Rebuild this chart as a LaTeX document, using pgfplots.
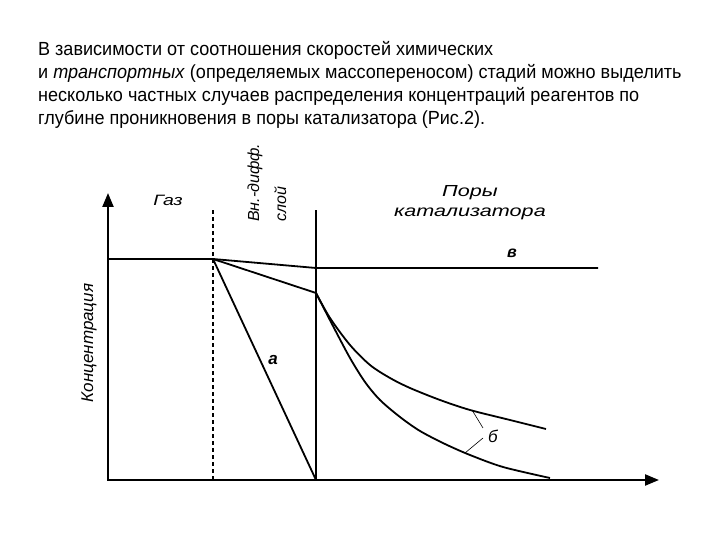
\documentclass[border=0pt]{standalone}
\usepackage{fontspec}
\setmainfont{Liberation Sans}
\usepackage{pgfplots}
\pgfplotsset{compat=1.18}
\usetikzlibrary{arrows.meta}
\begin{document}
\begin{tikzpicture}
\begin{axis}[width=720pt,height=540pt,scale only axis,xmin=0,xmax=720,ymin=0,ymax=540,hide axis,clip=false]
\path (axis cs:0,0) rectangle (axis cs:720,540);
% paragraph
\node[anchor=base west,font=\fontsize{19}{22}\selectfont,inner sep=0pt,xscale=0.95] at (axis cs:38,484) {В зависимости от соотношения скоростей химических};
\node[anchor=base west,font=\fontsize{19}{22}\selectfont,inner sep=0pt,xscale=0.95] at (axis cs:38,461) {и \textit{транспортных} (определяемых массопереносом) стадий можно выделить};
\node[anchor=base west,font=\fontsize{19}{22}\selectfont,inner sep=0pt,xscale=0.95] at (axis cs:38,438) {несколько частных случаев распределения концентраций реагентов по};
\node[anchor=base west,font=\fontsize{19}{22}\selectfont,inner sep=0pt,xscale=0.95] at (axis cs:38,415) {глубине проникновения в поры катализатора (Рис.2).};
% axes
\addplot[line width=2.2pt,-{Triangle[length=14pt,width=11pt]}] coordinates {(108,59) (108,347)};
\addplot[line width=2.2pt,-{Triangle[length=14pt,width=11pt]}] coordinates {(107,60) (659,60)};
% boundaries
\addplot[line width=1.4pt,dash pattern=on 4pt off 3pt] coordinates {(213,60) (213,331)};
\addplot[line width=1.4pt] coordinates {(316,60) (316,330)};
% gas line
\addplot[line width=1.8pt] coordinates {(108,281) (213,281)};
% в
\addplot[line width=1.8pt] coordinates {(213,281) (316,272) (598,272)};
% а
\addplot[line width=1.8pt] coordinates {(213,281) (316,60)};
% б stem
\addplot[line width=1.8pt] coordinates {(213,281) (316,247)};
% б upper
\addplot[line width=1.8pt,smooth,tension=0.5] coordinates {(316,247) (330,222) (350,195) (370,175) (390,162) (410,152) (440,140) (470,130) (510,120) (546,111)};
% б lower
\addplot[line width=1.8pt,smooth,tension=0.5] coordinates {(316,247) (333,214) (350,182) (365,158) (380,140) (400,123) (420,109) (445,96) (470,85) (503,73) (550,62)};
% leaders
\addplot[line width=0.6pt] coordinates {(472,130) (483,112)};
\addplot[line width=0.6pt] coordinates {(465,87) (483,102)};
% labels
\node[font=\fontsize{16}{16}\selectfont\itshape\bfseries] at (axis cs:512,287) {в};
\node[font=\fontsize{17}{17}\selectfont\itshape\bfseries] at (axis cs:273,180) {а};
\node[font=\fontsize{17}{17}\selectfont\itshape] at (axis cs:493,104) {б};
\node[font=\fontsize{15}{15}\selectfont\itshape,xscale=1.3] at (axis cs:168,340) {Газ};
\node[font=\fontsize{16}{16}\selectfont\itshape,xscale=1.35] at (axis cs:470,347) {Поры};
\node[font=\fontsize{16}{16}\selectfont\itshape,xscale=1.35] at (axis cs:470,326) {катализатора};
\node[font=\fontsize{16}{16}\selectfont\itshape,rotate=90,anchor=base west,inner sep=0pt] at (axis cs:259,318) {Вн.-дифф.};
\node[font=\fontsize{16}{16}\selectfont\itshape,rotate=90,anchor=base west,inner sep=0pt] at (axis cs:286,318) {слой};
\node[font=\fontsize{17}{17}\selectfont\itshape,rotate=90] at (axis cs:89,197) {Концентрация};
\end{axis}
\end{tikzpicture}
\end{document}
